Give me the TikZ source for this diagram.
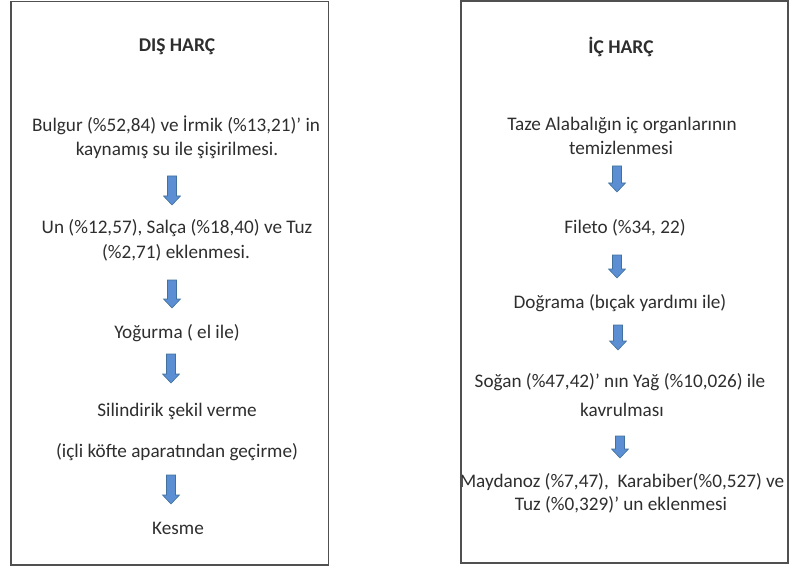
\documentclass[tikz,border=0pt]{standalone}
\usepackage{fontspec}
\setmainfont{Carlito}
\definecolor{txt}{HTML}{2E2E2E}
\definecolor{arrfill}{HTML}{5B8ED2}
\definecolor{arrline}{HTML}{41719C}
\definecolor{boxline}{HTML}{505050}
\newcommand{\flowarrow}[4]{% name, x, ytop, ybottom
  \coordinate (#1) at (#2,#3);
  \filldraw[barrow] ($(#1)+(-4.5,0)$) -- ($(#1)+(4.5,0)$) -- ($(#1)+(4.5,#4-#3-9)$) -- ($(#1)+(8.5,#4-#3-9)$) -- ($(#1)+(0,#4-#3)$) -- ($(#1)+(-8.5,#4-#3-9)$) -- ($(#1)+(-4.5,#4-#3-9)$) -- cycle;}
\usetikzlibrary{calc}
\begin{document}
\begin{tikzpicture}[x=1pt,y=-1pt,
  lbl/.style={text=txt,font=\fontsize{19.2}{22}\selectfont,inner sep=0pt,align=center},
  ttl/.style={lbl,font=\fontsize{19.5}{23}\selectfont\bfseries},
  frame/.style={draw=boxline,line width=1.3pt},
  barrow/.style={fill=arrfill,draw=arrline,line width=0.6pt,line join=miter}]
\useasboundingbox (0,0) rectangle (789,569);
% left box
\draw[frame] (11,1.5) rectangle (328.5,565);
\node[ttl] (d0) at (177,47) {DIŞ HARÇ};
\node[lbl] (d1a) at (176,125) {Bulgur (\%52,84) ve İrmik (\%13,21)’ in};
\node[lbl] (d1b) at (177,150) {kaynamış su ile şişirilmesi.};
\flowarrow{a1}{172}{176}{205}
\node[lbl] (d2a) at (177,228) {Un (\%12,57), Salça (\%18,40) ve Tuz};
\node[lbl] (d2b) at (176,253) {(\%2,71) eklenmesi.};
\flowarrow{a2}{172}{280}{308}
\node[lbl] (d3) at (177,333) {Yoğurma ( el ile)};
\flowarrow{a3}{171}{354}{383}
\node[lbl] (d4a) at (177,411) {Silindirik şekil verme};
\node[lbl] (d4b) at (177,452) {(içli köfte aparatından geçirme)};
\flowarrow{a4}{171}{475}{504}
\node[lbl] (d5) at (178,528) {Kesme};
% right box
\draw[frame] (461,1) rectangle (788,563);
\node[ttl] (i0) at (621,47) {İÇ HARÇ};
\node[lbl] (i1a) at (622,125) {Taze Alabalığın iç organlarının};
\node[lbl] (i1b) at (621,148) {temizlenmesi};
\flowarrow{b1}{617}{166}{192}
\node[lbl] (i2) at (625,228) {Fileto (\%34, 22)};
\flowarrow{b2}{617}{255}{278}
\node[lbl] (i3) at (620,303) {Doğrama (bıçak yardımı ile)};
\flowarrow{b3}{618}{325}{350}
\node[lbl] (i4a) at (620,382) {Soğan (\%47,42)’ nın Yağ (\%10,026) ile};
\node[lbl] (i4b) at (622,410) {kavrulması};
\flowarrow{b4}{620}{436}{458}
\begin{scope}
\clip (462,0) rectangle (789,569);
\node[lbl] (i5a) at (622,482) {Maydanoz (\%7,47),\ \ Karabiber(\%0,527) ve};
\end{scope}
\node[lbl] (i5b) at (621,505) {Tuz (\%0,329)’ un eklenmesi};
\end{tikzpicture}
\end{document}
